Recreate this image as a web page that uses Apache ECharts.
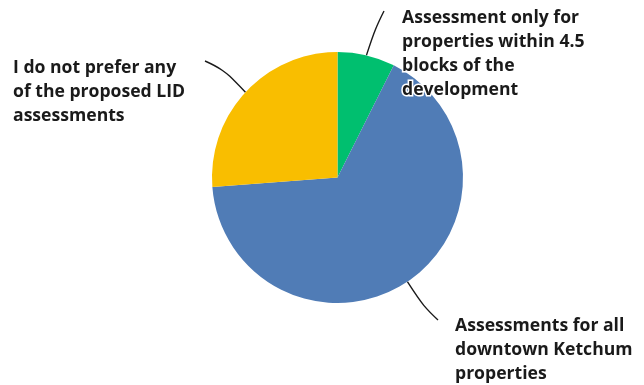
<!DOCTYPE html>
<html>
<head>
<meta charset="utf-8">
<script src="https://cdn.jsdelivr.net/npm/echarts@6/dist/echarts.min.js"></script>
<style>
  html, body { margin: 0; padding: 0; background: #ffffff; }
  #chart { width: 644px; height: 385px; }
</style>
</head>
<body>
<div id="chart"></div>
<script>
// Survey responses: preferred LID assessment option (share of responses, %)
const categories = [
  'Assessment only for\nproperties within 4.5\nblocks of the\ndevelopment',
  'Assessments for all\ndowntown Ketchum\nproperties',
  'I do not prefer any\nof the proposed LID\nassessments'
];
const shares = [7.4, 66.4, 26.2];
const colors = ['#00BF6F', '#507CB6', '#F9BE00'];

// Where each label block sits, and how its leader line bends on the way there
const labelSpots = [
  { x: 402, y: 6,   bend: [375, 29],  end: [384, 11] },
  { x: 455, y: 314, bend: [423, 306], end: [438, 320] },
  { x: 13,  y: 56,  bend: [223, 69],  end: [205, 61] }
];

const chart = echarts.init(document.getElementById('chart'), null, { renderer: 'canvas' });

chart.setOption({
  backgroundColor: '#ffffff',
  animation: false,
  series: [{
    type: 'pie',
    center: [337.5, 177.5],
    radius: 125.5,
    startAngle: 90,
    clockwise: true,
    avoidLabelOverlap: false,
    data: categories.map((name, i) => ({
      name: name,
      value: shares[i],
      itemStyle: { color: colors[i] }
    })),
    label: {
      show: true,
      position: 'outside',
      formatter: '{b}',
      color: '#1a1a1a',
      fontFamily: '"Open Sans", "Noto Sans", sans-serif',
      fontWeight: 'bold',
      fontSize: 17.6,
      lineHeight: 24,
      textBorderColor: '#ffffff',
      textBorderWidth: 3
    },
    labelLine: {
      show: true,
      length: 10,
      length2: 10,
      smooth: 0.4,
      lineStyle: { color: '#1a1a1a', width: 1.4 }
    },
    labelLayout: function (params) {
      const spot = labelSpots[params.dataIndex];
      const anchor = params.labelLinePoints ? params.labelLinePoints[0] : spot.bend;
      return {
        x: spot.x,
        y: spot.y,
        align: 'left',
        verticalAlign: 'top',
        labelLinePoints: [anchor, spot.bend, spot.end]
      };
    },
    emphasis: { disabled: true }
  }]
});
</script>
</body>
</html>
